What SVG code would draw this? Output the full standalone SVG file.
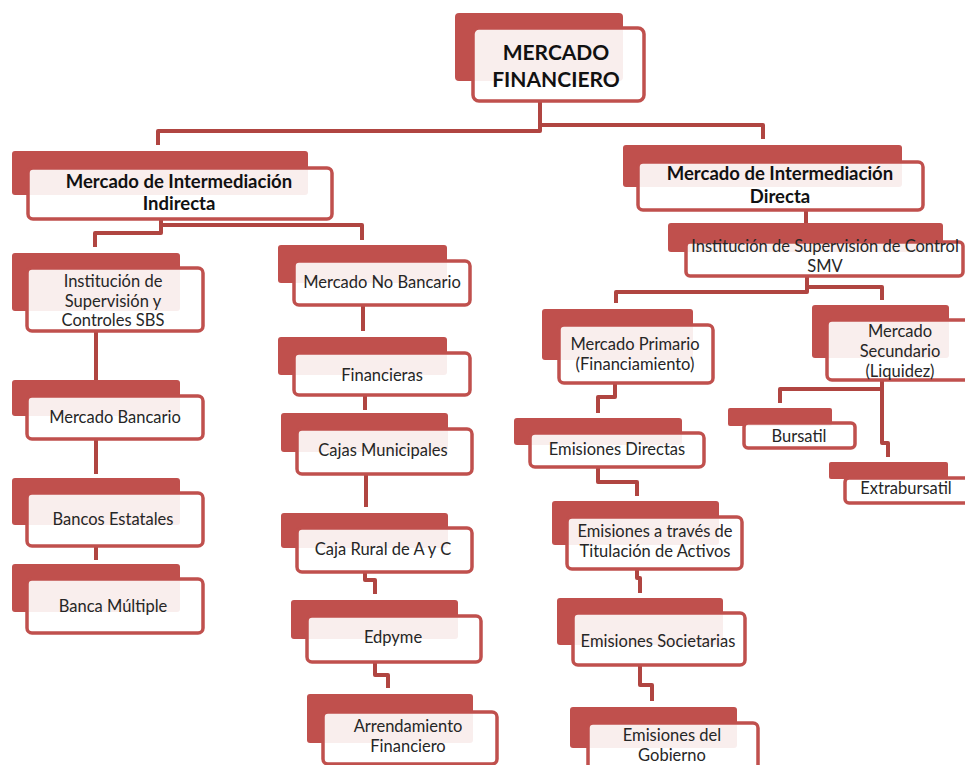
<svg xmlns="http://www.w3.org/2000/svg" width="965" height="765" viewBox="0 0 965 765">
<style>
.bk{fill:#C0504D;}
.fr{fill:#fff;fill-opacity:0.9;stroke:#C0504D;stroke-width:3.5;}
.t{font-family:Lato,"Liberation Sans",sans-serif;font-size:16.5px;fill:#262626;text-anchor:middle;}
.b{font-weight:bold;font-size:18.5px;fill:#111;}
.h{font-weight:bold;font-size:21px;fill:#111;}
.c{fill:none;stroke:#B04541;stroke-width:4;stroke-linejoin:round;}
</style>
<rect width="965" height="765" fill="#fff"/>
<g id="connectors">
<path class="c" d="M540,101 V131 H158 V145"/>
<path class="c" d="M540,125 H763 V139"/>
<path class="c" d="M161,219 V233 H95 V247"/>
<path class="c" d="M161,225 H362 V240"/>
<path class="c" d="M806,210 V223"/>
<path class="c" d="M807,276 V292 H616 V303"/>
<path class="c" d="M807,287 H882 V300"/>
<path class="c" d="M96,331 V380"/>
<path class="c" d="M96,439 V474"/>
<path class="c" d="M96,546 V560"/>
<path class="c" d="M363,305 V331"/>
<path class="c" d="M365,395 V410"/>
<path class="c" d="M366,474 V507"/>
<path class="c" d="M365,572 V580 H375 V594"/>
<path class="c" d="M375,662 V675 H388 V688"/>
<path class="c" d="M615,383 V397 H598 V413"/>
<path class="c" d="M598,467 V482 H637 V496"/>
<path class="c" d="M637,569 V578 H640 V593"/>
<path class="c" d="M640,665 V685 H652 V701"/>
<path class="c" d="M882,380 V389 H780 V403"/>
<path class="c" d="M882,389 V443 H888 V457"/>
</g>
<g id="n_mercado">
<rect class="bk" x="455" y="13" width="168" height="68" rx="4"/>
<rect class="fr" x="473" y="28" width="171" height="73" rx="6"/>
<text class="t h" x="556" y="60">MERCADO</text>
<text class="t h" x="556" y="87">FINANCIERO</text>
</g>
<g id="n_indirecta">
<rect class="bk" x="12" y="151" width="296" height="44" rx="3"/>
<rect class="fr" x="28" y="168" width="304" height="51" rx="5"/>
<text class="t b" x="179" y="188">Mercado de Intermediación</text>
<text class="t b" x="179" y="210">Indirecta</text>
</g>
<g id="n_directa">
<rect class="bk" x="623" y="145" width="279" height="42" rx="3"/>
<rect class="fr" x="638" y="162" width="285" height="48" rx="5"/>
<text class="t b" x="780" y="180">Mercado de Intermediación</text>
<text class="t b" x="780" y="203">Directa</text>
</g>
<g id="n_smv">
<rect class="bk" x="668" y="223" width="275" height="29" rx="3"/>
<rect class="fr" x="686" y="242" width="277" height="34" rx="4"/>
<text class="t" x="825" y="252">Institución de Supervisión de Control</text>
<text class="t" x="825" y="272">SMV</text>
</g>
<g id="n_sbs">
<rect class="bk" x="12" y="253" width="168" height="58" rx="3"/>
<rect class="fr" x="27" y="268" width="176" height="63" rx="5"/>
<text class="t" x="113" y="287">Institución de</text>
<text class="t" x="113" y="307">Supervisión y</text>
<text class="t" x="113" y="326">Controles SBS</text>
</g>
<g id="n_bancario">
<rect class="bk" x="12" y="380" width="168" height="36" rx="3"/>
<rect class="fr" x="27" y="396" width="176" height="43" rx="5"/>
<text class="t" x="115" y="423">Mercado Bancario</text>
</g>
<g id="n_estatales">
<rect class="bk" x="12" y="478" width="168" height="47" rx="3"/>
<rect class="fr" x="27" y="493" width="176" height="53" rx="5"/>
<text class="t" x="113" y="525">Bancos Estatales</text>
</g>
<g id="n_multiple">
<rect class="bk" x="12" y="564" width="168" height="48" rx="3"/>
<rect class="fr" x="27" y="579" width="176" height="54" rx="5"/>
<text class="t" x="113" y="612">Banca Múltiple</text>
</g>
<g id="n_nobancario">
<rect class="bk" x="278" y="245" width="169" height="38" rx="3"/>
<rect class="fr" x="294" y="261" width="176" height="44" rx="5"/>
<text class="t" x="382" y="288">Mercado No Bancario</text>
</g>
<g id="n_financieras">
<rect class="bk" x="278" y="337" width="169" height="38" rx="3"/>
<rect class="fr" x="294" y="353" width="176" height="42" rx="5"/>
<text class="t" x="382" y="381">Financieras</text>
</g>
<g id="n_cajas">
<rect class="bk" x="281" y="413" width="167" height="39" rx="3"/>
<rect class="fr" x="297" y="429" width="175" height="45" rx="5"/>
<text class="t" x="383" y="456">Cajas Municipales</text>
</g>
<g id="n_rural">
<rect class="bk" x="281" y="513" width="167" height="35" rx="3"/>
<rect class="fr" x="297" y="528" width="175" height="44" rx="5"/>
<text class="t" x="383" y="555">Caja Rural de A y C</text>
</g>
<g id="n_edpyme">
<rect class="bk" x="291" y="600" width="167" height="39" rx="3"/>
<rect class="fr" x="307" y="616" width="174" height="46" rx="5"/>
<text class="t" x="393" y="643">Edpyme</text>
</g>
<g id="n_arrendamiento">
<rect class="bk" x="307" y="694" width="166" height="49" rx="3"/>
<rect class="fr" x="323" y="712" width="174" height="52" rx="5"/>
<text class="t" x="408" y="732">Arrendamiento</text>
<text class="t" x="408" y="752">Financiero</text>
</g>
<g id="n_primario">
<rect class="bk" x="542" y="309" width="151" height="51" rx="3"/>
<rect class="fr" x="559" y="325" width="154" height="58" rx="5"/>
<text class="t" x="635" y="350">Mercado Primario</text>
<text class="t" x="635" y="370">(Financiamiento)</text>
</g>
<g id="n_emdirectas">
<rect class="bk" x="514" y="418" width="168" height="27" rx="3"/>
<rect class="fr" x="530" y="433" width="174" height="34" rx="5"/>
<text class="t" x="617" y="455">Emisiones Directas</text>
</g>
<g id="n_titulacion">
<rect class="bk" x="552" y="501" width="167" height="44" rx="3"/>
<rect class="fr" x="567" y="517" width="175" height="52" rx="5"/>
<text class="t" x="655" y="537">Emisiones a través de</text>
<text class="t" x="655" y="557">Titulación de Activos</text>
</g>
<g id="n_societarias">
<rect class="bk" x="557" y="598" width="166" height="47" rx="3"/>
<rect class="fr" x="573" y="613" width="172" height="52" rx="5"/>
<text class="t" x="658" y="647">Emisiones Societarias</text>
</g>
<g id="n_gobierno">
<rect class="bk" x="570" y="707" width="167" height="41" rx="3"/>
<rect class="fr" x="588" y="723" width="170" height="50" rx="5"/>
<text class="t" x="672" y="741">Emisiones del</text>
<text class="t" x="672" y="761">Gobierno</text>
</g>
<g id="n_secundario">
<rect class="bk" x="812" y="305" width="137" height="53" rx="3"/>
<rect class="fr" x="827" y="320" width="150" height="60" rx="5"/>
<text class="t" x="900" y="337">Mercado</text>
<text class="t" x="900" y="357">Secundario</text>
<text class="t" x="900" y="377">(Liquidez)</text>
</g>
<g id="n_bursatil">
<rect class="bk" x="728" y="408" width="104" height="18" rx="2"/>
<rect class="fr" x="744" y="423" width="111" height="25" rx="4"/>
<text class="t" x="799" y="442">Bursatil</text>
</g>
<g id="n_extrabursatil">
<rect class="bk" x="829" y="462" width="119" height="17" rx="2"/>
<rect class="fr" x="845" y="478" width="130" height="25" rx="4"/>
<text class="t" x="906" y="494">Extrabursatil</text>
</g>
</svg>
